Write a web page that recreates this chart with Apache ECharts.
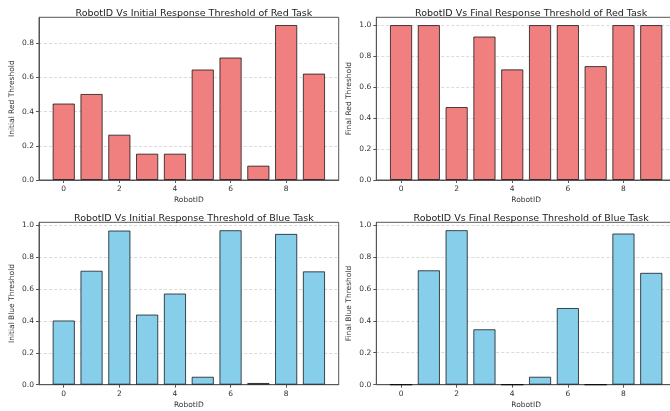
<!DOCTYPE html>
<html>
<head>
<meta charset="utf-8">
<script src="https://cdn.jsdelivr.net/npm/echarts@6/dist/echarts.min.js"></script>
<style>html,body{margin:0;padding:0;background:#fff;}#c{width:670px;height:411px;}</style>
</head>
<body>
<div id="c"></div>
<script>
var robotIds = [0,1,2,3,4,5,6,7,8,9];
var xTicks = [0,2,4,6,8];
var initialRed = [0.447,0.503,0.265,0.154,0.154,0.646,0.716,0.084,0.906,0.622];
var finalRed = [1.0,1.0,0.471,0.926,0.714,1.0,1.0,0.735,1.0,1.0];
var initialBlue = [0.403,0.715,0.967,0.440,0.572,0.050,0.969,0.011,0.946,0.711];
var finalBlue = [0.0,0.716,0.967,0.347,0.0,0.050,0.480,0.0,0.946,0.700];
var yTicks = [0,0.2,0.4,0.6,0.8,1.0];

var titles = [
  'RobotID Vs Initial Response Threshold of Red Task',
  'RobotID Vs Final Response Threshold of Red Task',
  'RobotID Vs Initial Response Threshold of Blue Task',
  'RobotID Vs Final Response Threshold of Blue Task'
];
var yNames = ['Initial Red Threshold','Final Red Threshold','Initial Blue Threshold','Final Blue Threshold'];
var seriesData = [initialRed, finalRed, initialBlue, finalBlue];
var colors = ['#F08080','#F08080','#87CEEB','#87CEEB'];
var yMax = [0.951, 1.05, 1.0185, 1.016];

var FONT = 'DejaVu Sans';
var W = 299.7;
var grids = [
  {left:39, top:17.3, width:W, height:162.7},
  {left:376.3, top:17.3, width:W, height:162.7},
  {left:39, top:222.3, width:W, height:162.4},
  {left:376.3, top:222.3, width:W, height:162.4}
];
var xMin = -0.89, xMax = 9.89;
var barW = 0.8 / (xMax - xMin) * W;

var option = {
  animation:false,
  backgroundColor:'#fff',
  title: [], grid: [], xAxis: [], yAxis: [], series: []
};
for (var i=0;i<4;i++){
  var g = grids[i];
  var yt = yTicks.filter(function(v){return v<=yMax[i];});
  option.grid.push({left:g.left, top:g.top, width:g.width, height:g.height, show:true, borderColor:'#555', borderWidth:1, outerBoundsMode:'none', containLabel:false});
  option.title.push({text:titles[i], left:g.left + g.width/2, top:g.top-14, textAlign:'center',
    textStyle:{fontFamily:FONT, fontSize:9.5, fontWeight:'normal', color:'#222'}});
  option.xAxis.push({type:'value', gridIndex:i, min:xMin, max:xMax,
    name:'RobotID', nameLocation:'middle', nameGap:16,
    nameTextStyle:{fontFamily:FONT, fontSize:7.5, color:'#333'},
    axisLine:{show:true, onZero:false, lineStyle:{color:'#555', width:1}},
    axisTick:{show:true, length:3, customValues:xTicks, lineStyle:{color:'#555'}},
    axisLabel:{customValues:xTicks, fontFamily:FONT, fontSize:7.5, color:'#333', margin:5},
    splitLine:{show:false}});
  option.yAxis.push({type:'value', gridIndex:i, min:0, max:yMax[i], interval:0.2,
    name:yNames[i], nameLocation:'middle', nameGap:23,
    nameTextStyle:{fontFamily:FONT, fontSize:7.5, color:'#333'},
    axisLine:{show:true, onZero:false, lineStyle:{color:'#555', width:1}},
    axisTick:{show:true, length:3, customValues:yt, lineStyle:{color:'#555'}},
    axisLabel:{customValues:yt, fontFamily:FONT, fontSize:7.5, color:'#333', margin:5,
      formatter:function(v){return v.toFixed(1);}},
    splitLine:{show:true, lineStyle:{color:'#ccc', type:[3,2], width:0.7}}});
  option.series.push({type:'bar', xAxisIndex:i, yAxisIndex:i, barWidth:barW,
    data: robotIds.map(function(id,k){return [id, seriesData[i][k]];}),
    itemStyle:{color:colors[i], borderColor:'rgba(0,0,0,0.7)', borderWidth:1}});
}
var chart = echarts.init(document.getElementById('c'), null, {renderer:'canvas'});
chart.setOption(option);
</script>
</body>
</html>
